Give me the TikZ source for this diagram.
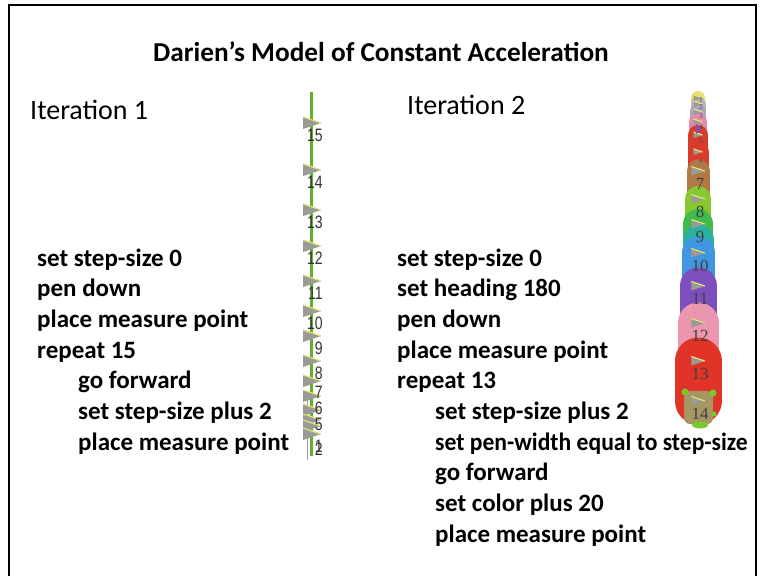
\documentclass[tikz,border=0pt]{standalone}
\usepackage{fontspec}
\setmainfont{Carlito}
\newfontfamily\lblsans{Liberation Sans}
\newfontfamily\lblserif{Liberation Serif}
\definecolor{trailgreen}{RGB}{95,178,40}
\definecolor{turtlegray}{RGB}{155,155,150}
\definecolor{turtleyel}{RGB}{225,225,120}
\definecolor{cYellow}{RGB}{232,226,110}
\definecolor{cGray}{RGB}{190,182,182}
\definecolor{cLav}{RGB}{175,160,200}
\definecolor{cPinkA}{RGB}{225,140,170}
\definecolor{cRedA}{RGB}{215,60,45}
\definecolor{cBrown}{RGB}{178,120,70}
\definecolor{cLime}{RGB}{135,200,50}
\definecolor{cGreen}{RGB}{65,185,75}
\definecolor{cTeal}{RGB}{45,175,160}
\definecolor{cBlue}{RGB}{65,150,225}
\definecolor{cPurple}{RGB}{125,78,190}
\definecolor{cPinkB}{RGB}{235,150,175}
\definecolor{cRedB}{RGB}{225,52,40}
\definecolor{cKhaki}{RGB}{165,150,100}
\definecolor{cGreenDot}{RGB}{120,200,50}
\begin{document}
\begin{tikzpicture}[x=1pt,y=-1pt,
  cmd/.style={anchor=base west, inner sep=0pt, font=\fontsize{25}{30}\selectfont\bfseries},
  iter/.style={anchor=base west, inner sep=0pt, font=\fontsize{28}{34}\selectfont},
  ttl/.style={anchor=base, inner sep=0pt, font=\fontsize{27.3}{33}\selectfont\bfseries},
  lblA/.style={anchor=east, inner sep=0pt, text=black!80, font=\lblsans\fontsize{18}{18}\selectfont},
  lblB/.style={anchor=center, inner sep=0pt, text=black!75, font=\lblserif\fontsize{17}{17}\selectfont},
  lblC/.style={anchor=center, inner sep=0pt, text=black!70, font=\lblserif\fontsize{7.5}{7.5}\selectfont},
  turtle/.pic={\fill[turtlegray] (-9,-6) -- (9,0) -- (-9,6) -- cycle;
               \draw[turtleyel, line width=1.2pt] (-9,-6) -- (9,0);},
  seg/.style={line cap=round}
]
\useasboundingbox (0,0) rectangle (762,575);
% frame
\draw[line width=2pt] (9,590) -- (9,5.5) -- (756,5.5) -- (756,590);

% title
\node[ttl] (title) at (381,62) {Darien’s Model of Constant Acceleration};
\node[iter] (it1) at (30,119) {Iteration 1};
\node[iter] (it2) at (407,114) {Iteration 2};

% iteration 1 commands
\node[cmd] (a1) at (37,266) {set step-size 0};
\node[cmd] (a2) at (37,296.7) {pen down};
\node[cmd] (a3) at (37,327.4) {place measure point};
\node[cmd] (a4) at (37,358.1) {repeat 15};
\node[cmd] (a5) at (78,388.8) {go forward};
\node[cmd] (a6) at (78,419.5) {set step-size plus 2};
\node[cmd] (a7) at (78,450.2) {place measure point};

% iteration 2 commands
\node[cmd] (b1) at (397,266) {set step-size 0};
\node[cmd] (b2) at (397,296.7) {set heading 180};
\node[cmd] (b3) at (397,327.4) {pen down};
\node[cmd] (b4) at (397,358.1) {place measure point};
\node[cmd] (b5) at (397,388.8) {repeat 13};
\node[cmd] (b6) at (435,419.5) {set step-size plus 2};
\node[cmd] (b7) at (435,450.2) {\scalebox{0.945}[1]{set pen-width equal to step-size}};
\node[cmd] (b8) at (435,480.9) {go forward};
\node[cmd] (b9) at (435,511.6) {set color plus 20};
\node[cmd] (b10) at (435,542.3) {place measure point};

% ---------- iteration 1 trail ----------
\draw[turtlegray, line width=1pt] (307.5,400) -- (307.5,460);
\draw[trailgreen, line width=3.5pt] (311.5,92) -- (311.5,456);
\foreach \y in {135,182,222,258,293,323,348,373,393,408,422,432,438,446}{
  \pic at (312,\y-12) {turtle};
}
\foreach \n/\y in {15/135,14/182,13/222,12/258,11/293,10/323,9/348,8/373,7/392,6/408,5/424,1/446,2/449}{
  \node[lblA] (q\n) at (323,\y) {\scalebox{0.78}[1]{\n}};
}

% ---------- iteration 2 trail ----------
% turtle points p1..p14
\foreach \n/\y in {1/98,2/104,3/112,4/122,5/135,6/152,7/171,8/199,9/224,10/253,11/286,12/323,13/361,14/401}{
  \coordinate (p\n) at (698,\y);
}
\draw[seg, cYellow, line width=14pt] (p1) -- (p2);
\draw[seg, cGray, line width=15pt] (p2) -- (p3);
\draw[seg, cLav, line width=16pt] (p3) -- (p4);
\draw[seg, cPinkA, line width=18pt] (p4) -- (p5);
\draw[seg, cRedA, line width=20pt] (p5) -- (p6);
\draw[seg, cRedA, line width=21pt] (p6) -- (p7);
\draw[seg, cBrown, line width=23pt] (p7) -- (p8);
\draw[seg, cLime, line width=26pt] (p8) -- (p9);
\draw[seg, cGreen, line width=30pt] (p9) -- (p10);
\draw[seg, cTeal, line width=31pt] (698,240) -- (698,246);
\draw[seg, cBlue, line width=33pt] (p10) -- (p11);
\draw[seg, cPurple, line width=37pt] (p11) -- (p12);
\draw[seg, cPinkB, line width=41pt] (p12) -- (p13);
\draw[seg, cRedB, line width=47pt] (p13) -- (p14);
% measure point 14 area
\fill[cKhaki, rounded corners=6pt] (684,391) rectangle (713,424);
\fill[cGreenDot] (685,392) circle (3.5);
\fill[cGreenDot] (713,393) circle (3.5);
\fill[cGreenDot] (714,414) circle (2.5);
\fill[cGreenDot] (700,425) ellipse (8 and 3.5);

% small early points
\foreach \n in {1,...,6}{
  \pic[scale=0.5] at (p\n) {turtle};
}
\foreach \n/\y in {1/100.5,2/107,3/116,4/127,5/141,6/161}{
  \node[lblC] (r\n) at (701,\y) {\n};
}
\fill[cPurple] (696,124) -- (701,129) -- (696,134) -- cycle;
% larger points
\foreach \n/\y in {7/184,8/212,9/237,10/266,11/299,12/336,13/374,14/414}{
  \pic[scale=0.75] at (p\n) {turtle};
  \node[lblB] (s\n) at (700,\y) {\n};
}
\end{tikzpicture}
\end{document}
